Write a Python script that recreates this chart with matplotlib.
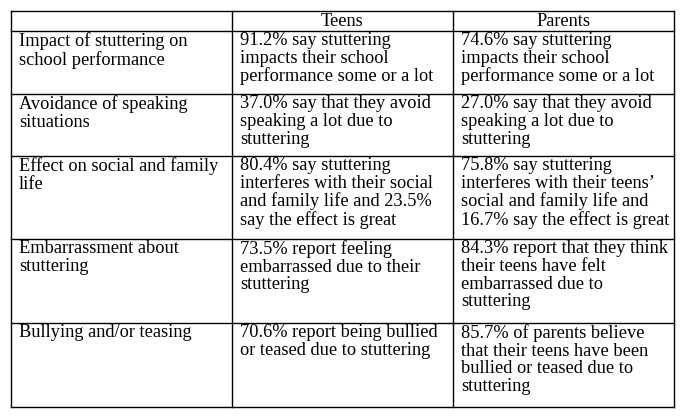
import matplotlib.pyplot as plt

headers = ["", "Teens", "Parents"]
topics = ["Impact of stuttering on\nschool performance",
          "Avoidance of speaking\nsituations",
          "Effect on social and family\nlife",
          "Embarrassment about\nstuttering",
          "Bullying and/or teasing"]
teens = ["91.2% say stuttering\nimpacts their school\nperformance some or a lot",
         "37.0% say that they avoid\nspeaking a lot due to\nstuttering",
         "80.4% say stuttering\ninterferes with their social\nand family life and 23.5%\nsay the effect is great",
         "73.5% report feeling\nembarrassed due to their\nstuttering",
         "70.6% report being bullied\nor teased due to stuttering"]
parents = ["74.6% say stuttering\nimpacts their school\nperformance some or a lot",
           "27.0% say that they avoid\nspeaking a lot due to\nstuttering",
           "75.8% say stuttering\ninterferes with their teens\u2019\nsocial and family life and\n16.7% say the effect is great",
           "84.3% report that they think\ntheir teens have felt\nembarrassed due to\nstuttering",
           "85.7% of parents believe\nthat their teens have been\nbullied or teased due to\nstuttering"]

col_x = [10.5, 231.5, 452.5, 673.5]
row_y = [11, 31, 94, 156, 239, 323, 407]

fig = plt.figure(figsize=(6.84, 4.16), dpi=100)
ax = fig.add_axes([0, 0, 1, 1])
ax.set_xlim(0, 684)
ax.set_ylim(416, 0)
ax.axis("off")

for x in col_x:
    ax.plot([x, x], [row_y[0], row_y[-1]], color="black", lw=1)
for y in row_y:
    ax.plot([col_x[0], col_x[-1]], [y, y], color="black", lw=1)

font = dict(family="Liberation Serif", fontsize=13.2, color="black", linespacing=1.06)
for i, h in enumerate(headers):
    ax.text((col_x[i] + col_x[i + 1]) / 2, 21, h, ha="center", va="center", **font)

for r in range(len(topics)):
    y = row_y[r + 1] + 1
    for c, txt in enumerate([topics[r], teens[r], parents[r]]):
        ax.text(col_x[c] + 8.5, y, txt, ha="left", va="top", **font)

fig.savefig("out.png", dpi=100)
